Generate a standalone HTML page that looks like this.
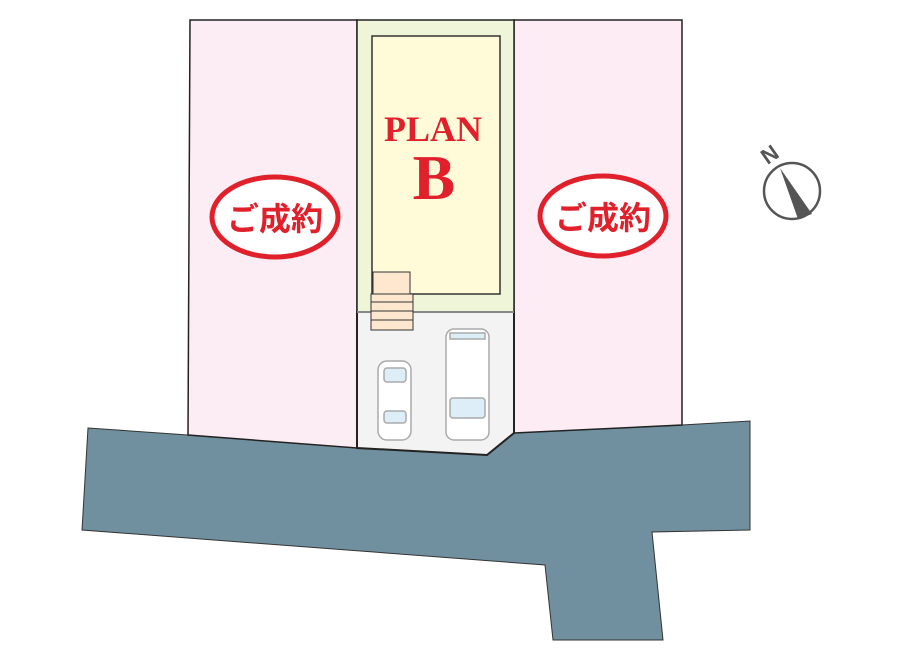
<!DOCTYPE html>
<html><head><meta charset="utf-8"><style>
html,body{margin:0;padding:0;background:#fff;width:900px;height:656px;overflow:hidden}
</style></head><body>
<svg width="900" height="656" viewBox="0 0 900 656" xmlns="http://www.w3.org/2000/svg">
<polygon points="88,428 188,435 357,448 487,455 514,433 682,425 750,421 750,530 652,532 663,640 553,640 545,565 82,530" fill="#71909f" stroke="#333" stroke-width="1"/>
<polygon points="190,20 357,20 357,448 188,435" fill="#fcecf3" stroke="#222" stroke-width="1.5"/>
<polygon points="514,20 682,20 682,425 514,433" fill="#fdecf4" stroke="#222" stroke-width="1.5"/>
<polygon points="357,312 514,312 514,433 487,455 357,448" fill="#f3f3f3" stroke="#222" stroke-width="2"/>
<rect x="357" y="20" width="157" height="292" fill="#eef5d8" stroke="#222" stroke-width="1.5"/>
<line x1="357" y1="312" x2="514" y2="312" stroke="#888" stroke-width="2"/>
<rect x="372" y="36" width="128" height="258" fill="#fffbd9" stroke="#333" stroke-width="1.5"/>
<rect x="373" y="272" width="37" height="22" fill="#fde7cf" stroke="#333" stroke-width="1"/>
<rect x="371" y="294" width="42" height="36" fill="#fde7cf" stroke="#333" stroke-width="1"/>
<line x1="371" y1="302" x2="413" y2="302" stroke="#333"/><line x1="371" y1="311" x2="413" y2="311" stroke="#333"/><line x1="371" y1="320" x2="413" y2="320" stroke="#333"/>
<g stroke="#aaa" stroke-width="1.5" fill="#fff">
<rect x="378" y="361" width="33" height="79" rx="9"/>
<rect x="384" y="368" width="22" height="14" rx="3" fill="#ddeef8"/>
<rect x="384" y="411" width="22" height="12" rx="3" fill="#ddeef8"/>
<rect x="446" y="329" width="43" height="111" rx="8"/>
<rect x="450" y="333" width="35" height="6" fill="#ddeef8"/>
<rect x="450" y="398" width="35" height="20" rx="3" fill="#ddeef8"/>
</g>
<ellipse cx="275" cy="217" rx="63" ry="40" fill="#fff" stroke="#e0202a" stroke-width="5"/>
<ellipse cx="603" cy="216" rx="63" ry="40" fill="#fff" stroke="#e0202a" stroke-width="5"/>
<text x="275" y="230" text-anchor="middle" font-family="Liberation Sans, Noto Sans CJK JP, sans-serif" font-weight="bold" font-size="32" fill="#e0202a">ご成約</text>
<text x="603" y="229" text-anchor="middle" font-family="Liberation Sans, Noto Sans CJK JP, sans-serif" font-weight="bold" font-size="32" fill="#e0202a">ご成約</text>
<text x="433" y="141" text-anchor="middle" font-family="Liberation Serif, serif" font-weight="bold" font-size="36" fill="#e0202a">PLAN</text>
<text x="434" y="199" text-anchor="middle" font-family="Liberation Serif, serif" font-weight="bold" font-size="64" fill="#e0202a">B</text>
<circle cx="792" cy="191" r="28" fill="#fff" stroke="#555" stroke-width="2.5"/>
<polygon points="780,168 812,214 798,219" fill="#555"/>
<text x="770" y="162" text-anchor="middle" font-family="Liberation Sans, sans-serif" font-weight="bold" font-size="22" fill="#555" transform="rotate(-35 770 155)">N</text>
</svg>
</body></html>
